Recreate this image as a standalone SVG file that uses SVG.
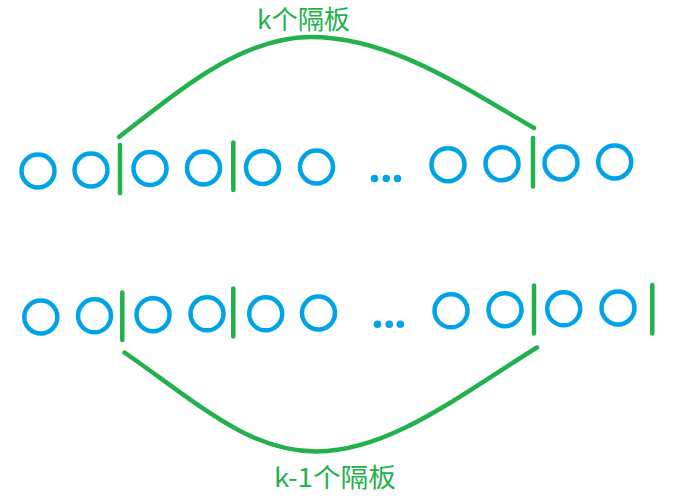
<svg xmlns="http://www.w3.org/2000/svg" width="677" height="503" viewBox="0 0 677 503">
<style>
.ball{fill:none;stroke:#00A2E8;stroke-width:4.5}
.dot{fill:#00A2E8}
.bar{stroke:#22B14C;stroke-width:4.5;stroke-linecap:round}
.arc{fill:none;stroke:#22B14C;stroke-width:4.5;stroke-linecap:round}
.lbl{fill:#22B14C;font-family:"Microsoft YaHei","Noto Sans CJK SC",sans-serif;font-size:26px}
</style>
<rect width="677" height="503" fill="#fff"/>
<g id="row1">
<circle class="ball" cx="38" cy="171" r="16.5"/>
<circle class="ball" cx="91" cy="170" r="16.5"/>
<circle class="ball" cx="150" cy="168.5" r="16.5"/>
<circle class="ball" cx="203.5" cy="168" r="16.5"/>
<circle class="ball" cx="262.5" cy="167.5" r="16.5"/>
<circle class="ball" cx="316.5" cy="167" r="16.5"/>
<circle class="dot" cx="374.5" cy="178.5" r="3.8"/>
<circle class="dot" cx="386.3" cy="178.5" r="3.8"/>
<circle class="dot" cx="397.5" cy="178.5" r="3.8"/>
<circle class="ball" cx="448" cy="164.7" r="16.5"/>
<circle class="ball" cx="502" cy="163.8" r="16.5"/>
<circle class="ball" cx="561" cy="163" r="16.5"/>
<circle class="ball" cx="614.7" cy="162" r="16.5"/>
</g>
<g id="row2">
<circle class="ball" cx="40.8" cy="317" r="16.5"/>
<circle class="ball" cx="94.5" cy="315.8" r="16.5"/>
<circle class="ball" cx="153" cy="314.7" r="16.5"/>
<circle class="ball" cx="207" cy="313.8" r="16.5"/>
<circle class="ball" cx="265.7" cy="313.8" r="16.5"/>
<circle class="ball" cx="318.5" cy="313" r="16.5"/>
<circle class="dot" cx="377.5" cy="324.3" r="3.8"/>
<circle class="dot" cx="389.3" cy="324.3" r="3.8"/>
<circle class="dot" cx="400.3" cy="324.3" r="3.8"/>
<circle class="ball" cx="451" cy="310.8" r="16.5"/>
<circle class="ball" cx="505" cy="309.7" r="16.5"/>
<circle class="ball" cx="563.7" cy="308.8" r="16.5"/>
<circle class="ball" cx="618" cy="308" r="16.5"/>
</g>
<g id="dividers">
<line class="bar" x1="120" y1="145" x2="120" y2="193"/>
<line class="bar" x1="233.3" y1="142.5" x2="233.3" y2="190"/>
<line class="bar" x1="533" y1="138" x2="533" y2="186.5"/>
<line class="bar" x1="122.3" y1="292.5" x2="122.3" y2="340"/>
<line class="bar" x1="233.3" y1="288.5" x2="233.3" y2="336.5"/>
<line class="bar" x1="534" y1="285.5" x2="534" y2="333.5"/>
<line class="bar" x1="652.3" y1="285" x2="652.3" y2="333.5"/>
</g>
<g id="connectors">
<path class="arc" d="M119,137 C180,90 240,38 310,37 C390,37 460,85 534,128"/>
<path class="arc" d="M124.5,352.5 C200,405 250,452 317,451.5 C390,451 460,395 537,347.5"/>
</g>
<g id="labels">
<text class="lbl" x="257" y="29" textLength="93" lengthAdjust="spacingAndGlyphs">k个隔板</text>
<text class="lbl" x="274" y="487" textLength="122" lengthAdjust="spacingAndGlyphs">k-1个隔板</text>
</g>
</svg>
